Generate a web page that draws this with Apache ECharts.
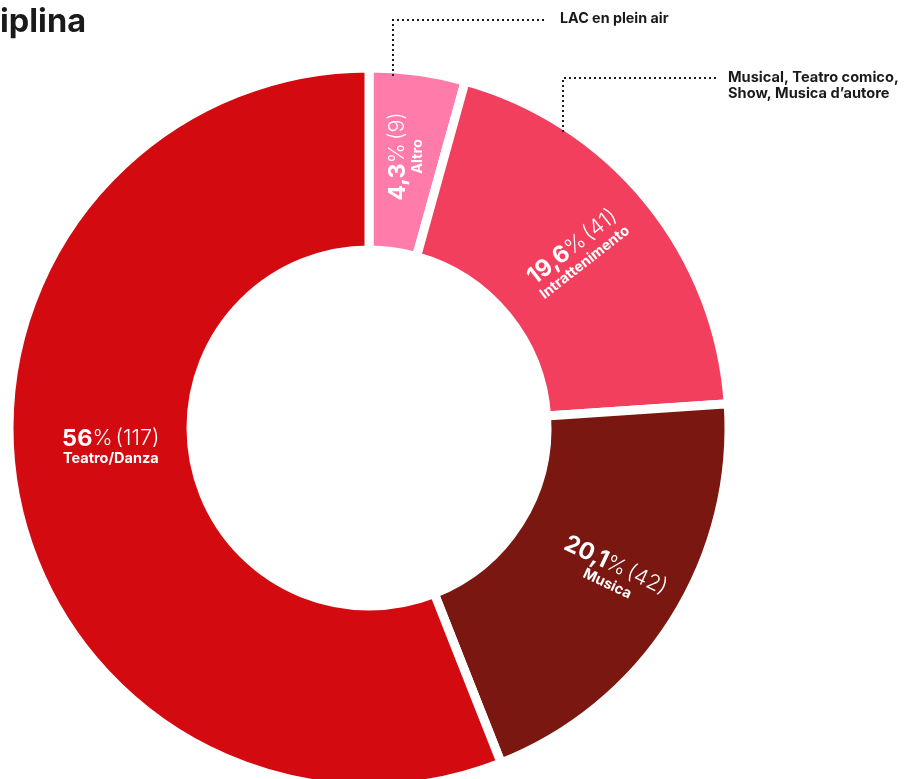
<!DOCTYPE html>
<html><head><meta charset="utf-8">
<script src="https://cdn.jsdelivr.net/npm/echarts@6/dist/echarts.min.js"></script>
<style>html,body{margin:0;padding:0;background:#fff}#c{width:904px;height:779px}</style>
</head><body><div id="c"></div>
<script>
const categories = ['Altro', 'Intrattenimento', 'Musica', 'Teatro/Danza'];
const counts = [9, 41, 42, 117];
const percentLabels = ['4,3', '19,6', '20,1', '56'];
const colors = ['#FF7BA9', '#F23F5E', '#7A1710', '#D30A10'];
const labelRotations = [90, 38, -25, 0];
const labelShifts = [[2, 0], [0, -4], [12, -6], [9, -32]];
const titleText = 'Disciplina';
const note1 = 'LAC en plein air';
const note2 = 'Musical, Teatro comico,\nShow, Musica d\u2019autore';

const chart = echarts.init(document.getElementById('c'));
const FONT = 'Inter, "Liberation Sans", sans-serif';
const data = categories.map((c, i) => ({
  name: c, value: counts[i],
  itemStyle: { color: colors[i] },
  label: { rotate: labelRotations[i] }
}));
const dot = { stroke: '#1a1a1a', lineWidth: 2, lineDash: [2, 3], fill: null };
chart.setOption({
  animation: false,
  graphic: [
    { type: 'text', z: 100, x: 86, y: 6, style: { text: titleText, textAlign: 'right', fontFamily: FONT, fontWeight: 'bold', fontSize: 32.5, fill: '#1a1a1a' } },
    { type: 'polyline', z: 100, shape: { points: [[393, 76], [393, 20], [546, 20]] }, style: dot },
    { type: 'polyline', z: 100, shape: { points: [[563, 132], [563, 78], [716, 78]] }, style: dot },
    { type: 'text', z: 100, x: 560, y: 12, style: { text: note1, fontFamily: FONT, fontWeight: 'bold', fontSize: 14.3, fill: '#1a1a1a' } },
    { type: 'text', z: 100, x: 728, y: 70, style: { text: note2, fontFamily: FONT, fontWeight: 'bold', fontSize: 14.6, lineHeight: 16, fill: '#1a1a1a' } }
  ],
  series: [{
    type: 'pie',
    center: [369, 428],
    radius: [178, 360],
    startAngle: 90,
    clockwise: true,
    avoidLabelOverlap: false,
    itemStyle: { borderColor: '#fff', borderWidth: 9 },
    label: {
      show: true, position: 'inside', color: '#fff',
      formatter: p => '{v|' + percentLabels[p.dataIndex] + '}{p|%}{n|(' + p.value + ')}\n{c|' + p.name + '}',
      rich: {
        v: { fontFamily: FONT, fontWeight: 'bold', fontSize: 23.5, color: '#fff', lineHeight: 24 },
        p: { fontFamily: FONT, fontWeight: 300, fontSize: 21.5, color: '#fff', lineHeight: 24 },
        n: { fontFamily: FONT, fontWeight: 300, fontSize: 21.5, color: '#fff', lineHeight: 24, padding: [0, 0, 0, 3] },
        c: { fontFamily: FONT, fontWeight: 'bold', fontSize: 14.5, color: '#fff', lineHeight: 16 }
      }
    },
    labelLayout: p => ({ dx: labelShifts[p.dataIndex][0], dy: labelShifts[p.dataIndex][1] }),
    labelLine: { show: false },
    emphasis: { disabled: true },
    data: data
  }]
});
</script></body></html>
